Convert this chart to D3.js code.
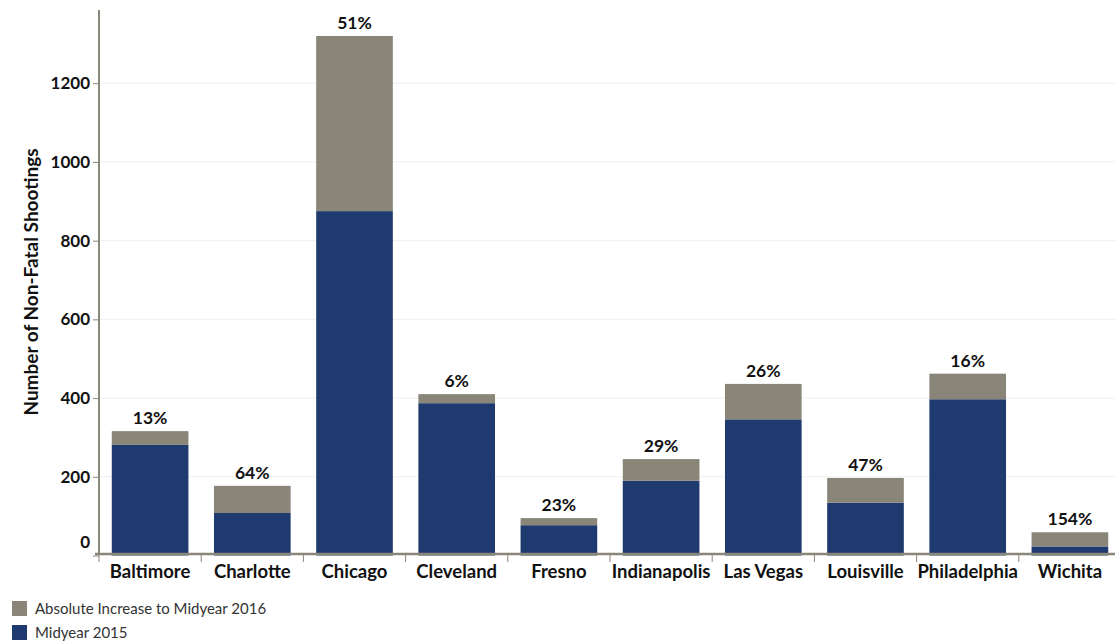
<!DOCTYPE html>
<html><head><meta charset="utf-8">
<script src="https://cdn.jsdelivr.net/npm/d3@7"></script>
<style>body{margin:0;background:#fff}svg{display:block}</style>
</head><body><svg id="c" width="1115" height="644"></svg>
<script>
const cities = ["Baltimore","Charlotte","Chicago","Cleveland","Fresno","Indianapolis","Las Vegas","Louisville","Philadelphia","Wichita"];
const midyear2015 = [281,108,875,387,77,190,346,134,397,23];
const increase2016 = [35,69,445,23,18,55,90,63,65,36];
const pctLabels = ["13%","64%","51%","6%","23%","29%","26%","47%","16%","154%"];
const yTicks = [0,200,400,600,800,1000,1200];
const seriesNames = ["Absolute Increase to Midyear 2016","Midyear 2015"];
const colors = {"Midyear 2015":"#1F3A6E","Absolute Increase to Midyear 2016":"#898679"};

const svg = d3.select("#c");
const font = "Lato, 'Open Sans', sans-serif";
const x = d3.scaleBand().domain(cities).range([99,1121]).paddingInner(0.25).paddingOuter(0.125);
const y = d3.scaleLinear().domain([0,1386]).range([555.5,10]);

// gridlines
svg.append("g").selectAll("line").data(yTicks.filter(d=>d>0)).join("line")
  .attr("x1",99).attr("x2",1115).attr("y1",d=>y(d)).attr("y2",d=>y(d))
  .attr("stroke","#efefef").attr("stroke-width",1);

const data = cities.map((c,i)=>({city:c,"Midyear 2015":midyear2015[i],"Absolute Increase to Midyear 2016":increase2016[i],pct:pctLabels[i]}));
const stack = d3.stack().keys(["Midyear 2015","Absolute Increase to Midyear 2016"])(data);
svg.append("g").selectAll("g").data(stack).join("g").attr("fill",s=>colors[s.key])
  .selectAll("rect").data(s=>s).join("rect")
  .attr("x",d=>x(d.data.city)).attr("width",x.bandwidth())
  .attr("y",d=>y(d[1])).attr("height",d=>y(d[0])-y(d[1]));

// pct labels
svg.append("g").selectAll("text").data(data).join("text")
  .attr("x",d=>x(d.city)+x.bandwidth()/2)
  .attr("y",d=>y(d["Midyear 2015"]+d["Absolute Increase to Midyear 2016"])-7)
  .attr("text-anchor","middle").attr("font-family",font).attr("font-weight","bold")
  .attr("font-size",17.5).attr("fill","#111").text(d=>d.pct);

// y axis
const yAxis = d3.axisLeft(y).tickValues(yTicks).tickSize(6).tickFormat(d3.format("d"));
const ya = svg.append("g").attr("transform","translate(99,0)").call(yAxis);
ya.select(".domain").attr("stroke","#8a877a").attr("stroke-width",2).attr("d","M0,10V555");
ya.selectAll(".tick line").attr("stroke","#8a877a").attr("stroke-width",1);
ya.selectAll(".tick text").attr("font-family",font).attr("font-weight","bold").attr("font-size",17)
  .attr("fill","#111").attr("x",-9).attr("dy",d=>d===0?"-0.5em":"0.32em");

// x axis
const xa = svg.append("g").attr("transform","translate(0,554)").call(d3.axisBottom(x).tickSize(0).tickPadding(11));
xa.select(".domain").attr("stroke","#8a877a").attr("stroke-width",2.5).attr("d","M95,0H1115");
xa.selectAll(".tick text").attr("font-family",font).attr("font-weight","bold").attr("font-size",18.5).attr("fill","#111");
// separators between categories
svg.append("g").selectAll("line").data(cities).join("line")
  .attr("x1",d=>x(d)-x.step()*x.paddingInner()/2).attr("x2",d=>x(d)-x.step()*x.paddingInner()/2)
  .attr("y1",555).attr("y2",562).attr("stroke","#8a877a").attr("stroke-width",1);

// y title
svg.append("text").attr("transform","translate(38,282) rotate(-90)").attr("text-anchor","middle")
  .attr("font-family",font).attr("font-weight","bold").attr("font-size",19).attr("fill","#111")
  .text("Number of Non-Fatal Shootings");

// legend
const lg = svg.append("g").selectAll("g").data(seriesNames).join("g")
  .attr("transform",(d,i)=>`translate(12,${601+i*24})`);
lg.append("rect").attr("width",15).attr("height",15).attr("fill",d=>colors[d]);
lg.append("text").attr("x",23).attr("y",12.5).attr("font-family",font).attr("font-size",15)
  .attr("fill","#333").text(d=>d);
</script></body></html>
